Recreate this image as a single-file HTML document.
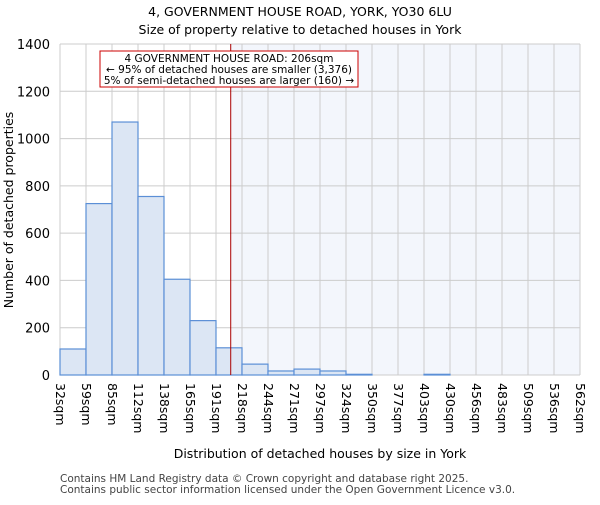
<!DOCTYPE html>
<html><head><meta charset="utf-8"><style>
body{margin:0;background:#fff;font-family:"Liberation Sans","DejaVu Sans",sans-serif}
svg text{font-family:"DejaVu Sans","Liberation Sans",sans-serif}
</style></head><body>
<svg id="chart" width="600" height="500" xmlns="http://www.w3.org/2000/svg">
<text x="300" y="16" text-anchor="middle" font-size="12.5">4, GOVERNMENT HOUSE ROAD, YORK, YO30 6LU</text>
<text x="300" y="34" text-anchor="middle" font-size="12.5">Size of property relative to detached houses in York</text>
<g id="grid"></g><g id="bars"></g><g id="axes"></g>
<text x="320" y="458" text-anchor="middle" font-size="12.5">Distribution of detached houses by size in York</text>
<text transform="translate(13,210) rotate(-90)" text-anchor="middle" font-size="12.5">Number of detached properties</text>
<text x="60" y="482" font-size="10.5" fill="#444">Contains HM Land Registry data © Crown copyright and database right 2025.</text>
<text x="60" y="493" font-size="10.5" fill="#444">Contains public sector information licensed under the Open Government Licence v3.0.</text>
</svg>
<script>
const categories=["32sqm","59sqm","85sqm","112sqm","138sqm","165sqm","191sqm","218sqm","244sqm","271sqm","297sqm","324sqm","350sqm","377sqm","403sqm","430sqm","456sqm","483sqm","509sqm","536sqm","562sqm"];
const counts=[110,725,1070,755,405,230,115,46,17,25,17,3,0,0,3,0,0,0,0,0];
const yTicks=[0,200,400,600,800,1000,1200,1400];
const propertySize=206;
const binStart=32, binEnd=562;
const NS="http://www.w3.org/2000/svg";
const X0=60,X1=580,Y0=375,Y1=44,YMAX=1400;
const bw=(X1-X0)/counts.length;
const xs=i=>X0+i*bw;
const xv=v=>X0+(v-binStart)/(binEnd-binStart)*(X1-X0);
const ys=v=>Y0-v/YMAX*(Y0-Y1);
function mk(t,a,p){const e=document.createElementNS(NS,t);for(const k in a)e.setAttribute(k,a[k]);(p||document.getElementById('chart')).appendChild(e);return e;}
const grid=document.getElementById('grid'),bars=document.getElementById('bars'),axes=document.getElementById('axes');
const px=xv(propertySize);
const sh=mk('rect',{x:px,y:Y1,width:X1-px,height:Y0-Y1,fill:'#f3f6fc'},grid);


for(let i=0;i<=counts.length;i++){const l=mk('line',{x1:xs(i),x2:xs(i),y1:Y1,y2:Y0,stroke:'#ccc','stroke-width':1},grid);

}
yTicks.forEach(v=>{const l=mk('line',{x1:X0,x2:X1,y1:ys(v),y2:ys(v),stroke:'#ccc','stroke-width':1},grid);


const t=mk('text',{x:X0-10,y:ys(v)+5,'text-anchor':'end','font-size':13},axes);t.textContent=v;

});
counts.forEach((c,i)=>{const r=mk('rect',{x:xs(i),y:ys(c),width:bw,height:Y0-ys(c),fill:'#dce6f4',stroke:'#5b8fd6','stroke-width':1.2},bars);

});
categories.forEach((c,i)=>{const x=xs(i);const t=mk('text',{transform:`translate(${x-4},383) rotate(90)`,'font-size':12.5},axes);t.textContent=c;

});
const pl=mk('line',{x1:px,x2:px,y1:Y1,y2:Y0,stroke:'#a00','stroke-width':1},axes);


const bx=mk('rect',{x:100,y:51,width:258,height:36,fill:'#fff',stroke:'#c00','stroke-width':1},axes);


["4 GOVERNMENT HOUSE ROAD: 206sqm","← 95% of detached houses are smaller (3,376)","5% of semi-detached houses are larger (160) →"].forEach((s,i)=>{const t=mk('text',{x:229,y:62+i*11,'text-anchor':'middle','font-size':10.5,textLength:i==0?'':''},axes);t.removeAttribute('textLength');t.textContent=s;

});
</script>
</body></html>
